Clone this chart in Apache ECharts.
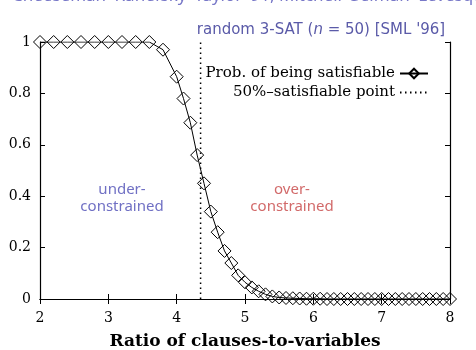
<!DOCTYPE html>
<html>
<head>
    <meta charset="utf-8">
    <title>random 3-SAT</title>
    <script src="https://cdn.jsdelivr.net/npm/echarts@6/dist/echarts.min.js"></script>
</head>
<body style="margin:0;background:#fff;">
<div id="main" style="position:absolute;top:0;left:0;width:476px;height:350px;"></div>
<script type="text/javascript">
    // ratio of clauses to variables
    var ratio = [2.0, 2.2, 2.4, 2.6, 2.8, 3.0, 3.2, 3.4, 3.6, 3.8,
        4.0, 4.1, 4.2, 4.3, 4.4, 4.5, 4.6, 4.7, 4.8, 4.9,
        5.0, 5.1, 5.2, 5.3, 5.4, 5.5, 5.6, 5.7, 5.8, 5.9,
        6.0, 6.1, 6.2, 6.3, 6.4, 6.5, 6.6, 6.7, 6.8, 6.9,
        7.0, 7.1, 7.2, 7.3, 7.4, 7.5, 7.6, 7.7, 7.8, 7.9, 8.0];
    // probability of being satisfiable
    var probSat = [1, 1, 1, 1, 1, 1, 1, 1, 1, 0.97,
        0.865, 0.78, 0.686, 0.56, 0.45, 0.34, 0.26, 0.187, 0.14, 0.092,
        0.065, 0.045, 0.03, 0.018, 0.01, 0.006, 0.004, 0.003, 0.002, 0.001,
        0.001, 0.001, 0, 0, 0, 0, 0, 0, 0, 0,
        0, 0, 0, 0, 0, 0, 0, 0, 0, 0, 0];
    var halfPoint = [[4.35, 0], [4.35, 1]];
    var xTicks = ['2', '3', '4', '5', '6', '7', '8'];
    var yTicks = ['0', '0.2', '0.4', '0.6', '0.8', '1'];

    var serif = '"DejaVu Serif", "Liberation Serif", serif';
    var sans = '"Noto Sans", "DejaVu Sans", sans-serif';

    var myChart = echarts.init(document.getElementById('main'));

    var curve = ratio.map(function (r, i) {
        return [r, probSat[i]];
    });

    function yLabel(v) {
        var s = String(Math.round(v * 10) / 10);
        return yTicks.indexOf(s) >= 0 ? s : '';
    }

    var axisCommon = {
        axisLine: {show: true, lineStyle: {color: '#000', width: 1.2}},
        axisTick: {show: true, inside: true, length: 5, lineStyle: {color: '#000'}},
        splitLine: {show: false}
    };

    myChart.setOption({
        animation: false,
        grid: {left: 40, right: 26, top: 42, bottom: 51, outerBoundsMode: 'none', containLabel: false},
        xAxis: [
            Object.assign({
                type: 'value', min: 2, max: 8, interval: 1, position: 'bottom',
                axisLabel: {
                    color: '#000', fontFamily: serif, fontSize: 14, margin: 12,
                    formatter: function (v) { return xTicks[v - 2]; }
                },
                name: 'Ratio of clauses-to-variables',
                nameLocation: 'middle',
                nameGap: 34,
                nameTextStyle: {color: '#000', fontFamily: serif, fontSize: 17, fontWeight: 'bold'}
            }, axisCommon),
            Object.assign({
                type: 'value', min: 2, max: 8, interval: 1, position: 'top',
                axisLabel: {show: false}
            }, axisCommon)
        ],
        yAxis: [
            Object.assign({
                type: 'value', min: 0, max: 1, interval: 0.2, position: 'left',
                axisLabel: {color: '#000', fontFamily: serif, fontSize: 14, margin: 9, formatter: yLabel}
            }, axisCommon),
            Object.assign({
                type: 'value', min: 0, max: 1, interval: 0.2, position: 'right',
                axisLabel: {show: false}
            }, axisCommon)
        ],
        legend: {
            orient: 'vertical',
            right: 42,
            top: 61,
            align: 'right',
            itemWidth: 28,
            itemHeight: 12,
            itemGap: 4,
            textStyle: {color: '#000', fontFamily: serif, fontSize: 15},
            data: [
                'Prob. of being satisfiable',
                {name: '50%\u2013satisfiable point', itemStyle: {opacity: 0}}
            ]
        },
        graphic: [
            {
                type: 'text', left: 12, top: -12,
                style: {
                    text: 'Cheeseman\u2013Kanefsky\u2013Taylor \'91, Mitchell\u2013Selman\u2013Levesque \'92',
                    fill: '#7878c8', font: '17px ' + sans
                }
            },
            {
                type: 'text', x: 321, y: 23,
                style: {
                    text: '{a|random 3-SAT (}{i|n}{a| = 50) [SML \'96]}',
                    textAlign: 'center',
                    rich: {
                        a: {fill: '#5a5aa8', fontFamily: '"DejaVu Sans", sans-serif', fontSize: 15},
                        i: {fill: '#5a5aa8', fontFamily: '"DejaVu Sans", sans-serif', fontSize: 15, fontStyle: 'italic'}
                    }
                }
            },
            {
                type: 'text', x: 122, y: 181,
                style: {
                    text: 'under-\nconstrained', textAlign: 'center', lineHeight: 17,
                    fill: '#7070c4', font: '15px ' + sans
                }
            },
            {
                type: 'text', x: 292, y: 181,
                style: {
                    text: 'over-\nconstrained', textAlign: 'center', lineHeight: 17,
                    fill: '#d26a6a', font: '15px ' + sans
                }
            }
        ],
        series: [
            {
                name: 'Prob. of being satisfiable',
                type: 'line',
                data: curve,
                symbol: 'diamond',
                symbolSize: 13,
                showAllSymbol: true,
                lineStyle: {color: '#000', width: 1},
                itemStyle: {color: 'rgba(255,255,255,0)', borderColor: '#000', borderWidth: 1},
                z: 3
            },
            {
                name: '50%\u2013satisfiable point',
                type: 'line',
                data: halfPoint,
                symbol: 'none',
                lineStyle: {color: '#000', width: 1.5, type: [1.5, 3.5]},
                itemStyle: {color: '#000'},
                z: 2
            }
        ]
    });
</script>
</body>
</html>
